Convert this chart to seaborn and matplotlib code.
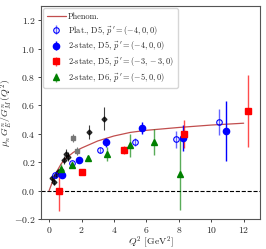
import numpy as np
import matplotlib
matplotlib.use("Agg")
import matplotlib.pyplot as plt
import seaborn as sns

# ---- datos ----
phen_q2 = [0, 0.1, 0.25, 0.5, 0.75, 1.0, 1.5, 2.0, 3.0, 4.0, 5.0, 6.0, 8.0, 10.0, 12.0]
phen_val = [0, 0.03, 0.075, 0.14, 0.19, 0.225, 0.27, 0.30, 0.35, 0.385, 0.41, 0.425, 0.445, 0.462, 0.475]

# experimento (negro)
exp_q2 = [0.2, 0.33, 0.43, 0.53, 0.74, 0.95, 1.05, 1.15, 2.47, 3.41]
exp_val = [0.09, 0.063, 0.11, 0.133, 0.145, 0.215, 0.26, 0.24, 0.414, 0.508]
exp_err = [0.02, 0.02, 0.02, 0.02, 0.02, 0.03, 0.03, 0.03, 0.05, 0.08]
# experimento (gris)
exp2_q2 = [1.46, 1.71]
exp2_val = [0.37, 0.28]
exp2_err = [0.03, 0.03]

plat_q2 = [0.37, 1.42, 3.13, 5.31, 7.82, 10.49]
plat_val = [0.108, 0.192, 0.285, 0.344, 0.363, 0.484]
plat_err = [0.02, 0.02, 0.02, 0.03, 0.06, 0.09]

d5_q2 = [0.78, 1.85, 3.54, 5.72, 8.23, 10.88]
d5_val = [0.112, 0.215, 0.34, 0.442, 0.37, 0.421]
d5_err = [0.02, 0.02, 0.03, 0.04, 0.09, 0.21]

d5b_q2 = [0.64, 2.02, 4.65, 8.29, 12.24]
d5b_val = [0.0, 0.133, 0.286, 0.398, 0.561]
d5b_err = [0.14, 0.02, 0.03, 0.10, 0.25]

d6_q2 = [0.72, 1.42, 2.37, 3.58, 5.0, 6.48, 8.07]
d6_val = [0.15, 0.18, 0.227, 0.26, 0.32, 0.344, 0.117]
d6_err = [0.04, 0.02, 0.02, 0.05, 0.08, 0.09, 0.25]

sns.set_style("ticks")
plt.rcParams.update({
    'font.family': 'serif',
    'font.serif': ['cmr10', 'DejaVu Serif'],
    'mathtext.fontset': 'cm',
    'axes.formatter.use_mathtext': True,
    'font.size': 7,
    'axes.edgecolor': '#555555',
    'axes.linewidth': 0.8,
})

fig = plt.figure(figsize=(2.66, 2.49), dpi=100)
ax = fig.add_axes([0.154, 0.12, 0.823, 0.856])

ax.axhline(0, color='black', ls='--', lw=0.8)

sns.lineplot(x=phen_q2, y=phen_val, ax=ax, color='#b22222', alpha=0.8, lw=0.9,
             label='Phenom.')

ax.errorbar(exp_q2, exp_val, yerr=exp_err, fmt='D', color='black', ms=2.5,
            elinewidth=0.8, alpha=0.75, zorder=3)
ax.errorbar(exp2_q2, exp2_val, yerr=exp2_err, fmt='s', color='#777777', ms=2.5,
            elinewidth=0.8, zorder=3)

ax.errorbar(plat_q2, plat_val, yerr=plat_err, fmt='o', mfc='none', mec='blue',
            ecolor=(0, 0, 1, 0.6), ms=4, mew=0.8, elinewidth=1.0,
            label=r"Plat., D5, $\vec{p}\,' = (-4,0,0)$", zorder=4)
ax.errorbar(d5_q2, d5_val, yerr=d5_err, fmt='o', color='blue', ms=4.5,
            elinewidth=1.0, label=r"2-state, D5, $\vec{p}\,' = (-4,0,0)$", zorder=4)
ax.errorbar(d5b_q2, d5b_val, yerr=d5b_err, fmt='s', color='red', ms=4.5,
            ecolor=(1, 0, 0, 0.7), elinewidth=1.0,
            label=r"2-state, D5, $\vec{p}\,' = (-3,-3,0)$", zorder=4)
ax.errorbar(d6_q2, d6_val, yerr=d6_err, fmt='^', color='green', ms=4.5,
            ecolor=(0, 0.5, 0, 0.65), elinewidth=1.0,
            label=r"2-state, D6, $\vec{p}\,' = (-5,0,0)$", zorder=4)

ax.set_xlim(-0.5, 13)
ax.set_ylim(-0.2, 1.3)
ax.set_xticks([0, 2, 4, 6, 8, 10, 12])
ax.set_yticks([-0.2, 0.0, 0.2, 0.4, 0.6, 0.8, 1.0, 1.2])
ax.tick_params(length=2.5, width=0.6, pad=1.5, labelsize=7)
ax.set_xlabel(r"$Q^2$ [GeV$^2$]", fontsize=7)
ax.set_ylabel(r"$\mu_n\, G_E^n / G_M^n\, (Q^2)$", fontsize=7)
ax.xaxis.set_label_coords(0.5, -0.072)
ax.yaxis.set_label_coords(-0.12, 0.5)

ax.legend(loc='upper left', fontsize=6, frameon=True, handlelength=2.2,
          borderpad=0.45, labelspacing=0.35, handletextpad=0.3, borderaxespad=0.3)

fig.savefig("out.png", dpi=100)
